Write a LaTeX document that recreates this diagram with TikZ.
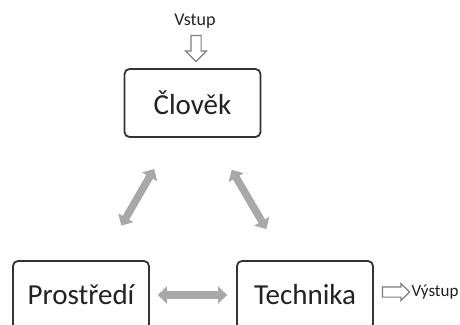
\documentclass[tikz,border=0pt]{standalone}
\usepackage{fontspec}
\setmainfont{Carlito}
\usetikzlibrary{arrows.meta,positioning,shapes.arrows}
\definecolor{boxline}{HTML}{333333}
\definecolor{arrgray}{HTML}{A8A8A8}
\definecolor{hollowline}{HTML}{7F7F7F}
\definecolor{txt}{HTML}{222222}
\tikzset{
  block/.style={draw=boxline, line width=1.8pt, rounded corners=5pt, fill=white,
    text=txt, font=\fontsize{29}{31}\selectfont, minimum width=136pt, minimum height=68pt},
  dblarr/.style={{Triangle[length=9pt,width=17pt]}-{Triangle[length=9pt,width=17pt]},
    draw=arrgray, line width=7.5pt},
  hollowarr/.style={single arrow, draw=hollowline, line width=1.2pt, fill=white,
    single arrow head extend=5.5pt, inner sep=4.5pt, minimum height=26pt},
  iolabel/.style={text=txt, font=\fontsize{18}{20}\selectfont, inner sep=0pt}
}

\begin{document}
\begin{tikzpicture}[x=1pt, y=-1pt]
  \clip (0,0) rectangle (460,324);
  \fill[white] (0,0) rectangle (460,324);

  \node[block] (clovek) at (192.5,103) {Člověk};
  \node[block] (prostredi) at (81,295) {Prostředí};
  \node[block] (technika) at (305,295) {Technika};

  \node[iolabel] (vstup) at (195,21) {Vstup};
  \node[hollowarr, rotate=-90] (vstuparr) at (196,46) {};

  \node[hollowarr, single arrow head extend=3.5pt, minimum height=27pt] (vystuparr) at (393.5,292) {};
  \node[iolabel, font=\fontsize{17}{19}\selectfont, right=1pt of vystuparr] (vystup) {Výstup};

  \draw[dblarr, shorten <=36pt, shorten >=40pt] (clovek) -- (prostredi);
  \draw[dblarr, shorten <=37pt, shorten >=36pt] (clovek) -- (technika);
  \draw[dblarr, shorten <=8pt, shorten >=9pt] (prostredi) -- (technika);
\end{tikzpicture}
\end{document}
